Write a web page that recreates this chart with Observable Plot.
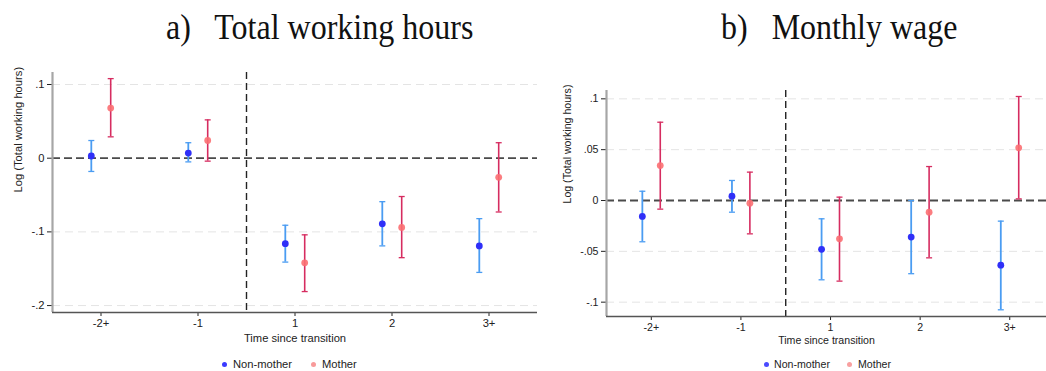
<!DOCTYPE html>
<html><head><meta charset="utf-8">
<script src="https://cdn.jsdelivr.net/npm/d3@7"></script>
<script src="https://cdn.jsdelivr.net/npm/@observablehq/plot@0.6"></script>
<style>
body{margin:0;background:#fff;}
#wrap{position:relative;width:1046px;height:371px;overflow:hidden;background:#fff;font-family:"Liberation Sans",Arial,sans-serif;color:#222;}
.panel{position:absolute;top:60px;}
.title{position:absolute;top:12px;font-family:"Liberation Serif","Times New Roman",serif;font-size:32px;line-height:32px;white-space:pre;color:#111;transform:scaleY(1.15);transform-origin:0 27px;}
.leg{position:absolute;white-space:nowrap;line-height:12px;}
.dot{position:absolute;width:5px;height:5px;border-radius:50%;}
</style>
</head><body>
<div id="wrap">
  <div class="title" style="left:166px">a)   Total working hours</div>
  <div class="title" style="left:721px">b)   Monthly wage</div>
  <div id="pa" class="panel" style="left:0px"></div>
  <div id="pb" class="panel" style="left:540px"></div>
</div>
<script>
// ---- data ----
const categories = ["-2+", "-1", "1", "2", "3+"];
const seriesNames = ["Non-mother", "Mother"];

// Panel a) Log(Total working hours)
const hoursNonMother   = [0.003, 0.007, -0.116, -0.089, -0.119];
const hoursNonMotherLo = [-0.018, -0.005, -0.141, -0.119, -0.155];
const hoursNonMotherHi = [0.024, 0.021, -0.091, -0.059, -0.082];
const hoursMother      = [0.068, 0.024, -0.142, -0.094, -0.026];
const hoursMotherLo    = [0.029, -0.004, -0.181, -0.135, -0.073];
const hoursMotherHi    = [0.108, 0.052, -0.104, -0.052, 0.021];
const hoursTicks = [-0.2, -0.1, 0, 0.1];

// Panel b) Monthly wage
const wageNonMother   = [-0.0157, 0.0043, -0.048, -0.036, -0.0636];
const wageNonMotherLo = [-0.0406, -0.0115, -0.078, -0.072, -0.1075];
const wageNonMotherHi = [0.0091, 0.0197, -0.018, 0.0, -0.0203];
const wageMother      = [0.0344, -0.0026, -0.0377, -0.0115, 0.0518];
const wageMotherLo    = [-0.0085, -0.0328, -0.0793, -0.0564, 0.0016];
const wageMotherHi    = [0.077, 0.0279, 0.0033, 0.0334, 0.1023];
const wageTicks = [-0.1, -0.05, 0, 0.05, 0.1];

const yLabel = "Log (Total working hours)";
const xLabel = "Time since transition";

const blueCI = "#4a9cf2", blueDot = "#2f2ff8";
const redCI = "#d62c60", redDot = "#fb6f72";

function fmt(d){
  if (d === 0) return "0";
  return String(+d.toFixed(3)).replace(/^(-?)0\./, "$1.");
}

function makePanel(o){
  const off = 0.1;
  const mk = (vals, lo, hi, s) => categories.map((c, i) => ({x: i + 1 + (s ? off : -off), y: vals[i], lo: lo[i], hi: hi[i]}));
  const nm = mk(o.nm, o.nmLo, o.nmHi, 0);
  const m = mk(o.m, o.mLo, o.mHi, 1);
  const pxPerUnit = (o.width - o.ml - o.mr) / (o.xMax - 0.5);
  const cap = 3 / pxPerUnit;
  const grid = o.ticks.filter(t => t !== 0);
  const capMarks = (data, color) => [
    Plot.link(data, {x1: d => d.x - cap, x2: d => d.x + cap, y1: "hi", y2: "hi", stroke: color, strokeWidth: 1.3}),
    Plot.link(data, {x1: d => d.x - cap, x2: d => d.x + cap, y1: "lo", y2: "lo", stroke: color, strokeWidth: 1.3})
  ];
  return Plot.plot({
    width: o.width, height: o.height,
    marginLeft: o.ml, marginRight: o.mr, marginTop: o.mt, marginBottom: o.mb,
    style: {fontFamily: "Liberation Sans, Arial, sans-serif", fontSize: o.fs + "px", color: "#222", background: "transparent"},
    x: {domain: [0.5, o.xMax], ticks: [1, 2, 3, 4, 5], tickFormat: d => categories[d - 1], tickSize: 4, tickPadding: 3, label: null},
    y: {domain: o.yDomain, ticks: o.ticks, tickFormat: fmt, tickSize: 5, tickPadding: 3, label: null},
    marks: [
      Plot.ruleY(grid, {stroke: "#e4e4e4", strokeDasharray: "8,5", strokeWidth: 1}),
      Plot.ruleY([0], {stroke: "#4a4a4a", strokeDasharray: "8,4", strokeWidth: 1.8}),
      Plot.ruleX([2.5], {stroke: "#222", strokeDasharray: "7,4", strokeWidth: 1.4}),
      Plot.ruleX([0.5], {stroke: "#a6a6a6", strokeWidth: 2.2}),
      Plot.ruleY([o.yDomain[0]], {stroke: "#555", strokeWidth: 1.3}),
      Plot.ruleX(nm, {x: "x", y1: "lo", y2: "hi", stroke: blueCI, strokeWidth: 1.8}),
      ...capMarks(nm, blueCI),
      Plot.ruleX(m, {x: "x", y1: "lo", y2: "hi", stroke: redCI, strokeWidth: 1.6}),
      ...capMarks(m, redCI),
      Plot.dot(nm, {x: "x", y: "y", r: 3.4, fill: blueDot}),
      Plot.dot(m, {x: "x", y: "y", r: 3.4, fill: redDot, fillOpacity: 0.9}),
      Plot.text([yLabel], {frameAnchor: "left", rotate: -90, dx: o.yLabDx, fill: "#222"}),
      Plot.text([xLabel], {frameAnchor: "bottom", dy: o.xLabDy, fill: "#222"})
    ]
  });
}

document.getElementById("pa").appendChild(makePanel({
  nm: hoursNonMother, nmLo: hoursNonMotherLo, nmHi: hoursNonMotherHi,
  m: hoursMother, mLo: hoursMotherLo, mHi: hoursMotherHi,
  ticks: hoursTicks, yDomain: [-0.2094, 0.1163], xMax: 5.5,
  width: 540, height: 292, ml: 52, mr: 3, mt: 12, mb: 40, fs: 11.2,
  yLabDx: -34.5, xLabDy: 29
}));
document.getElementById("pb").appendChild(makePanel({
  nm: wageNonMother, nmLo: wageNonMotherLo, nmHi: wageNonMotherHi,
  m: wageMother, mLo: wageMotherLo, mHi: wageMotherHi,
  ticks: wageTicks, yDomain: [-0.1141, 0.1082], xMax: 5.41,
  width: 506, height: 292, ml: 66, mr: 0, mt: 30, mb: 36, fs: 10.6,
  yLabDx: -38.5, xLabDy: 27
}));

// legends (HTML, below the SVGs)
const wrap = document.getElementById("wrap");
function legend(items, fs){
  items.forEach(it => {
    const d = document.createElement("div");
    d.className = "dot";
    d.style.left = (it.dx - 2.5) + "px"; d.style.top = (364 - 2.5) + "px";
    d.style.background = it.color;
    wrap.appendChild(d);
    const t = document.createElement("div");
    t.className = "leg";
    t.textContent = it.name;
    t.style.left = it.tx + "px"; t.style.top = (364 - 6) + "px"; t.style.fontSize = fs + "px";
    wrap.appendChild(t);
  });
}
legend([{name: seriesNames[0], color: "#3a3aff", dx: 224, tx: 233}, {name: seriesNames[1], color: "#f89a9a", dx: 313, tx: 322}], 11.2);
legend([{name: seriesNames[0], color: "#4a4aff", dx: 766, tx: 774}, {name: seriesNames[1], color: "#f8a0a0", dx: 849, tx: 858}], 10.6);
</script>
</body></html>
